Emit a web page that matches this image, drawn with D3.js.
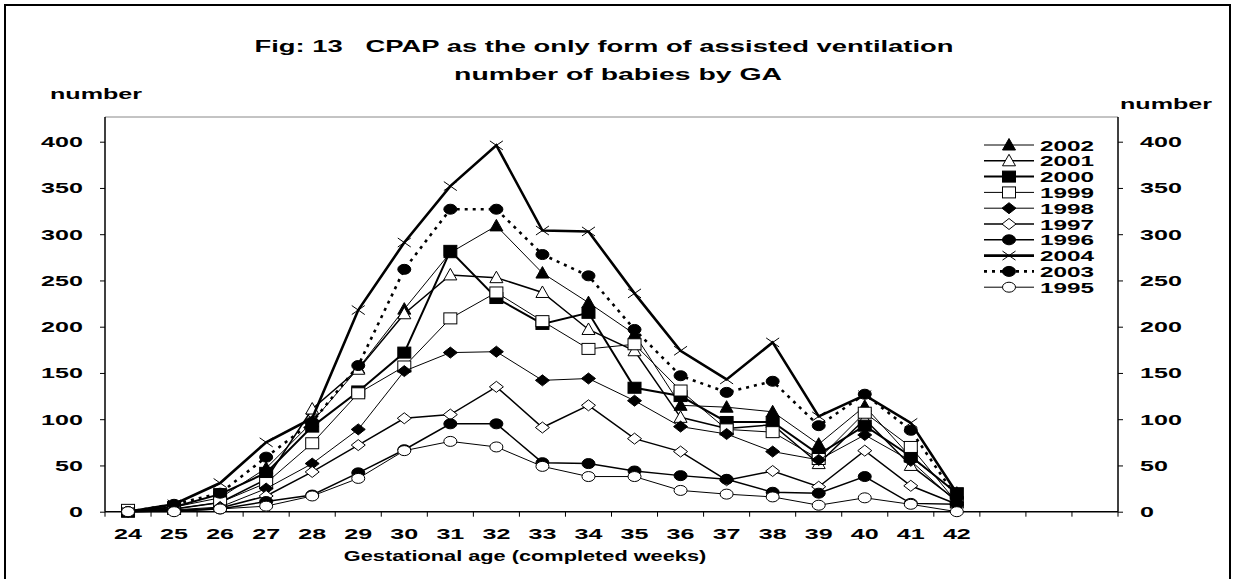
<!DOCTYPE html>
<html>
<head>
<meta charset="utf-8">
<script src="https://cdn.jsdelivr.net/npm/d3@7"></script>
<style>
	body { margin: 0; background: #fff; }
	svg { display: block; font-family: "Liberation Sans", Arial, sans-serif; font-weight: bold; }
	.axis path, .axis line { stroke: #000; }
	.axis text { font-size: 15.5px; font-weight: bold; fill: #000; font-family: "Liberation Sans", Arial, sans-serif; }
</style>
</head>
<body>
<div id="chart"></div>
<script>

// gestational age in completed weeks
const weeks = [24, 25, 26, 27, 28, 29, 30, 31, 32, 33, 34, 35, 36, 37, 38, 39, 40, 41, 42];
// the axis runs on for three empty slots after 42
const extraSlots = [43, 44, 45];
const yTicks = [0, 50, 100, 150, 200, 250, 300, 350, 400];

// number of babies per year
const y2002 = [0, 5, 15, 47, 97, 155, 219, 280, 309, 258, 226, 192, 115, 113, 108, 73, 114, 59, 20];
const y2001 = [0, 3, 10, 35, 111, 154, 214, 256, 253, 237, 197, 174, 102, 90, 94, 52, 100, 50, 12];
const y2000 = [0, 5, 19, 42, 92, 130, 172, 282, 231, 203, 215, 134, 125, 97, 97, 62, 93, 60, 20];
const y1999 = [2, 3, 10, 31, 74, 128, 157, 209, 237, 206, 176, 181, 131, 89, 86, 57, 107, 70, 10];
const y1998 = [0, 2, 5, 25, 52, 89, 152, 172, 173, 142, 144, 120, 92, 84, 65, 56, 83, 55, 10];
const y1997 = [0, 1, 4, 17, 43, 72, 101, 105, 135, 91, 115, 79, 65, 34, 44, 27, 66, 28, 8];
const y1996 = [0, 1, 3, 11, 18, 42, 67, 95, 95, 53, 52, 44, 39, 35, 21, 20, 38, 9, 8];
const y2004 = [0, 8, 31, 75, 101, 218, 291, 352, 396, 304, 303, 236, 174, 143, 183, 103, 126, 96, 20];
const y2003 = [0, 8, 20, 59, 97, 158, 262, 327, 327, 278, 255, 197, 147, 129, 141, 93, 127, 88, 15];
const y1995 = [0, 0, 3, 6, 17, 36, 66, 76, 70, 49, 38, 38, 23, 19, 16, 7, 15, 8, 0];

const seriesNames = ["2002", "2001", "2000", "1999", "1998", "1997", "1996", "2004", "2003", "1995"];
const seriesValues = [y2002, y2001, y2000, y1999, y1998, y1997, y1996, y2004, y2003, y1995];

// line and marker style per series
const styles = {
	"2002": { shape: "tri", fill: "#000", width: 1, dash: null },
	"2001": { shape: "tri", fill: "#fff", width: 1.5, dash: null },
	"2000": { shape: "square", fill: "#000", width: 2, dash: null },
	"1999": { shape: "square", fill: "#fff", width: 1, dash: null },
	"1998": { shape: "diamond", fill: "#000", width: 1, dash: null },
	"1997": { shape: "diamond", fill: "#fff", width: 1.5, dash: null },
	"1996": { shape: "circle", fill: "#000", width: 1.5, dash: null },
	"2004": { shape: "cross", fill: "none", width: 2.6, dash: null },
	"2003": { shape: "circle", fill: "#000", width: 2.6, dash: "3,5" },
	"1995": { shape: "circle", fill: "#fff", width: 1, dash: null }
};

const W = 1234, H = 579;
const plot = { left: 105, right: 1118, top: 117, y0: 511.7, y400: 141.7 };
const stretch = 1.62; // the original lettering is set wide

const svg = d3.select("#chart").append("svg")
	.attr("width", W)
	.attr("height", H);

// wide bold text helper
function wideText(g, x, y, str, size, anchor, sx) {
	return g.append("text")
		.attr("transform", `translate(${x},${y}) scale(${sx || stretch},1)`)
		.attr("text-anchor", anchor || "start")
		.attr("font-size", size)
		.attr("xml:space", "preserve")
		.text(str);
}

// outer frame
svg.append("rect")
	.attr("x", 5).attr("y", 5)
	.attr("width", 1225).attr("height", 600)
	.attr("fill", "none")
	.attr("stroke", "#000")
	.attr("stroke-width", 2);

const x = d3.scaleBand()
	.domain(weeks.concat(extraSlots))
	.range([plot.left, plot.right])
	.padding(0);

const y = d3.scaleLinear()
	.domain([0, 400])
	.range([plot.y0, plot.y400]);

// top edge of plot area (grey)
svg.append("line")
	.attr("x1", plot.left).attr("x2", plot.right)
	.attr("y1", plot.top).attr("y2", plot.top)
	.attr("stroke", "#888").attr("stroke-width", 1);

// left axis
const leftAxis = svg.append("g")
	.attr("class", "axis")
	.attr("transform", `translate(${plot.left},0)`)
	.call(d3.axisLeft(y).tickValues(yTicks).tickSize(5).tickPadding(17).tickSizeOuter(0));
leftAxis.select(".domain").remove();
leftAxis.selectAll(".tick text")
	.attr("x", null)
	.attr("transform", `translate(-22,0) scale(${stretch},1)`);
svg.append("line")
	.attr("x1", plot.left).attr("x2", plot.left)
	.attr("y1", plot.top).attr("y2", plot.y0)
	.attr("stroke", "#000").attr("stroke-width", 1.5);

// right axis
const rightAxis = svg.append("g")
	.attr("class", "axis")
	.attr("transform", `translate(${plot.right},0)`)
	.call(d3.axisRight(y).tickValues(yTicks).tickSize(5).tickPadding(17).tickSizeOuter(0));
rightAxis.select(".domain").remove();
rightAxis.selectAll(".tick text")
	.attr("x", null)
	.attr("transform", `translate(22,0) scale(${stretch},1)`);
svg.append("line")
	.attr("x1", plot.right).attr("x2", plot.right)
	.attr("y1", plot.top).attr("y2", plot.y0)
	.attr("stroke", "#000").attr("stroke-width", 1.5);

// bottom axis: labels centred in the bands, ticks on the band edges
const bottomAxis = svg.append("g")
	.attr("class", "axis")
	.attr("transform", `translate(0,${plot.y0})`)
	.call(d3.axisBottom(x)
		.tickValues(weeks)
		.tickSize(0)
		.tickPadding(16)
		.tickFormat(d => String(d)));
bottomAxis.select(".domain").remove();
bottomAxis.selectAll(".tick text")
	.attr("transform", `scale(${stretch},1)`);
svg.append("line")
	.attr("x1", plot.left).attr("x2", plot.right)
	.attr("y1", plot.y0).attr("y2", plot.y0)
	.attr("stroke", "#000").attr("stroke-width", 1.5);
svg.append("g")
	.selectAll("line")
	.data(x.domain().concat(["end"]))
	.join("line")
	.attr("x1", d => d === "end" ? plot.right : x(d))
	.attr("x2", d => d === "end" ? plot.right : x(d))
	.attr("y1", plot.y0)
	.attr("y2", plot.y0 + 5)
	.attr("stroke", "#000");

// titles
wideText(svg, 604, 52, "Fig: 13   CPAP as the only form of assisted ventilation", 16.5, "middle", 1.66);
wideText(svg, 618, 80, "number of babies by GA", 16.5, "middle", 1.72);
wideText(svg, 50, 99, "number", 15.5);
wideText(svg, 1120, 109, "number", 15.5);
wideText(svg, 525, 561, "Gestational age (completed weeks)", 15, "middle", 1.45);

// marker drawing
function drawMarker(g, shape, fill, cx, cy) {
	if (shape === "tri") {
		g.append("path")
			.attr("d", `M${cx},${cy - 6.5}L${cx + 6.5},${cy + 5}L${cx - 6.5},${cy + 5}Z`)
			.attr("fill", fill).attr("stroke", "#000").attr("stroke-width", 1);
	} else if (shape === "square") {
		g.append("rect")
			.attr("x", cx - 6.5).attr("y", cy - 5.5)
			.attr("width", 13).attr("height", 11)
			.attr("fill", fill).attr("stroke", "#000").attr("stroke-width", 1);
	} else if (shape === "diamond") {
		g.append("path")
			.attr("d", `M${cx},${cy - 5.5}L${cx + 7},${cy}L${cx},${cy + 5.5}L${cx - 7},${cy}Z`)
			.attr("fill", fill).attr("stroke", "#000").attr("stroke-width", 1);
	} else if (shape === "circle") {
		g.append("ellipse")
			.attr("cx", cx).attr("cy", cy)
			.attr("rx", 6.5).attr("ry", 5)
			.attr("fill", fill).attr("stroke", "#000").attr("stroke-width", 1);
	} else if (shape === "cross") {
		g.append("path")
			.attr("d", `M${cx - 6.5},${cy - 4.5}L${cx + 6.5},${cy + 4.5}M${cx - 6.5},${cy + 4.5}L${cx + 6.5},${cy - 4.5}`)
			.attr("fill", "none").attr("stroke", "#000").attr("stroke-width", 1);
	}
}

const line = d3.line()
	.x(d => x(d.week) + x.bandwidth() / 2)
	.y(d => y(d.value));

// series, drawn in legend order
seriesNames.forEach((name, i) => {
	const st = styles[name];
	const pts = weeks.map((w, j) => ({ week: w, value: seriesValues[i][j] }));
	const g = svg.append("g").attr("class", "series-" + name);
	g.append("path")
		.attr("d", line(pts))
		.attr("fill", "none")
		.attr("stroke", "#000")
		.attr("stroke-width", st.width)
		.attr("stroke-dasharray", st.dash);
	pts.forEach(p => drawMarker(g, st.shape, st.fill, x(p.week) + x.bandwidth() / 2, y(p.value)));
});

// legend
const legend = svg.append("g").attr("class", "legend");
seriesNames.forEach((name, i) => {
	const st = styles[name];
	const ly = 145 + i * 15.8;
	legend.append("line")
		.attr("x1", 984).attr("x2", 1034)
		.attr("y1", ly).attr("y2", ly)
		.attr("stroke", "#000")
		.attr("stroke-width", st.width)
		.attr("stroke-dasharray", st.dash);
	drawMarker(legend, st.shape, st.fill, 1009, ly);
	wideText(legend, 1040, ly + 5.5, name, 15);
});

</script>
</body>
</html>
